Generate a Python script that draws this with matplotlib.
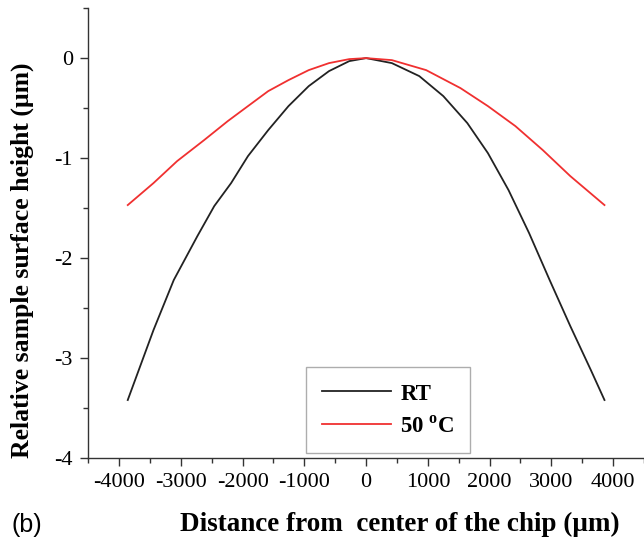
import matplotlib
matplotlib.use("Agg")
import matplotlib.pyplot as plt
from matplotlib.ticker import MultipleLocator

# curve readings (distance in um, height in um)
rt_x = [-3860, -3443, -3115, -2732, -2459, -2186, -1913, -1585, -1257, -929, -601, -273, 0,
        417, 861, 1250, 1639, 1972, 2306, 2639, 2972, 3306, 3639, 3860]
rt_y = [-3.42, -2.72, -2.22, -1.78, -1.48, -1.25, -0.98, -0.72, -0.48, -0.28, -0.13, -0.03, 0.0,
        -0.05, -0.18, -0.38, -0.65, -0.95, -1.32, -1.75, -2.22, -2.68, -3.12, -3.42]

hot_x = [-3860, -3443, -3060, -2623, -2240, -1913, -1585, -1257, -929, -601, -273, 0,
         417, 972, 1528, 1972, 2417, 2861, 3306, 3860]
hot_y = [-1.47, -1.25, -1.03, -0.82, -0.63, -0.48, -0.33, -0.22, -0.12, -0.05, -0.01, 0.0,
         -0.02, -0.12, -0.30, -0.48, -0.68, -0.92, -1.18, -1.47]

series_labels = ["RT", r"50 $^{\mathbf{o}}$C"]

serif = "Liberation Serif"
plt.rcParams["mathtext.fontset"] = "custom"
plt.rcParams["mathtext.rm"] = serif
plt.rcParams["mathtext.bf"] = serif + ":bold"
plt.rcParams["axes.unicode_minus"] = False

fig = plt.figure(figsize=(6.44, 5.42), dpi=100)
ax = fig.add_axes([0.137, 0.155, 0.863, 0.83])

ax.plot(rt_x, rt_y, color="#222222", lw=1.3, label=series_labels[0])
ax.plot(hot_x, hot_y, color="#f03030", lw=1.3, label=series_labels[1])

ax.set_xlim(-4500, 4500)
ax.set_ylim(-4, 0.5)
ax.xaxis.set_major_locator(MultipleLocator(1000))
ax.xaxis.set_minor_locator(MultipleLocator(500))
ax.yaxis.set_major_locator(MultipleLocator(1))
ax.yaxis.set_minor_locator(MultipleLocator(0.5))

for side in ("top", "right"):
    ax.spines[side].set_visible(False)
for side in ("left", "bottom"):
    ax.spines[side].set_color("#333333")
    ax.spines[side].set_linewidth(1.0)

ax.tick_params(which="major", direction="out", length=6, width=1.0, color="#333333",
               labelsize=16, pad=5)
ax.tick_params(which="minor", direction="out", length=3.5, width=1.0, color="#333333")
for lab in ax.get_xticklabels() + ax.get_yticklabels():
    lab.set_fontfamily(serif)

ax.set_xlabel("Distance from  center of the chip (\u03bcm)", fontfamily=serif,
              fontweight="bold", fontsize=19.5)
ax.xaxis.set_label_coords(0.56, -0.12)
ax.set_ylabel("Relative sample surface height (\u03bcm)", fontfamily=serif,
              fontweight="bold", fontsize=18.5)
ax.yaxis.set_label_coords(-0.097, 0.44)

leg = ax.legend(loc="lower center", bbox_to_anchor=(0.54, 0.0), fancybox=False,
                prop={"family": serif, "weight": "bold", "size": 16.5},
                handlelength=3.0, borderpad=0.7, labelspacing=0.5, handletextpad=0.4,
                borderaxespad=0.2)
leg.get_frame().set_edgecolor("#999999")
leg.get_frame().set_linewidth(1.0)

fig.text(0.018, 0.018, "(b)", fontfamily="Liberation Sans", fontsize=18)

fig.savefig("out.png", dpi=100)
